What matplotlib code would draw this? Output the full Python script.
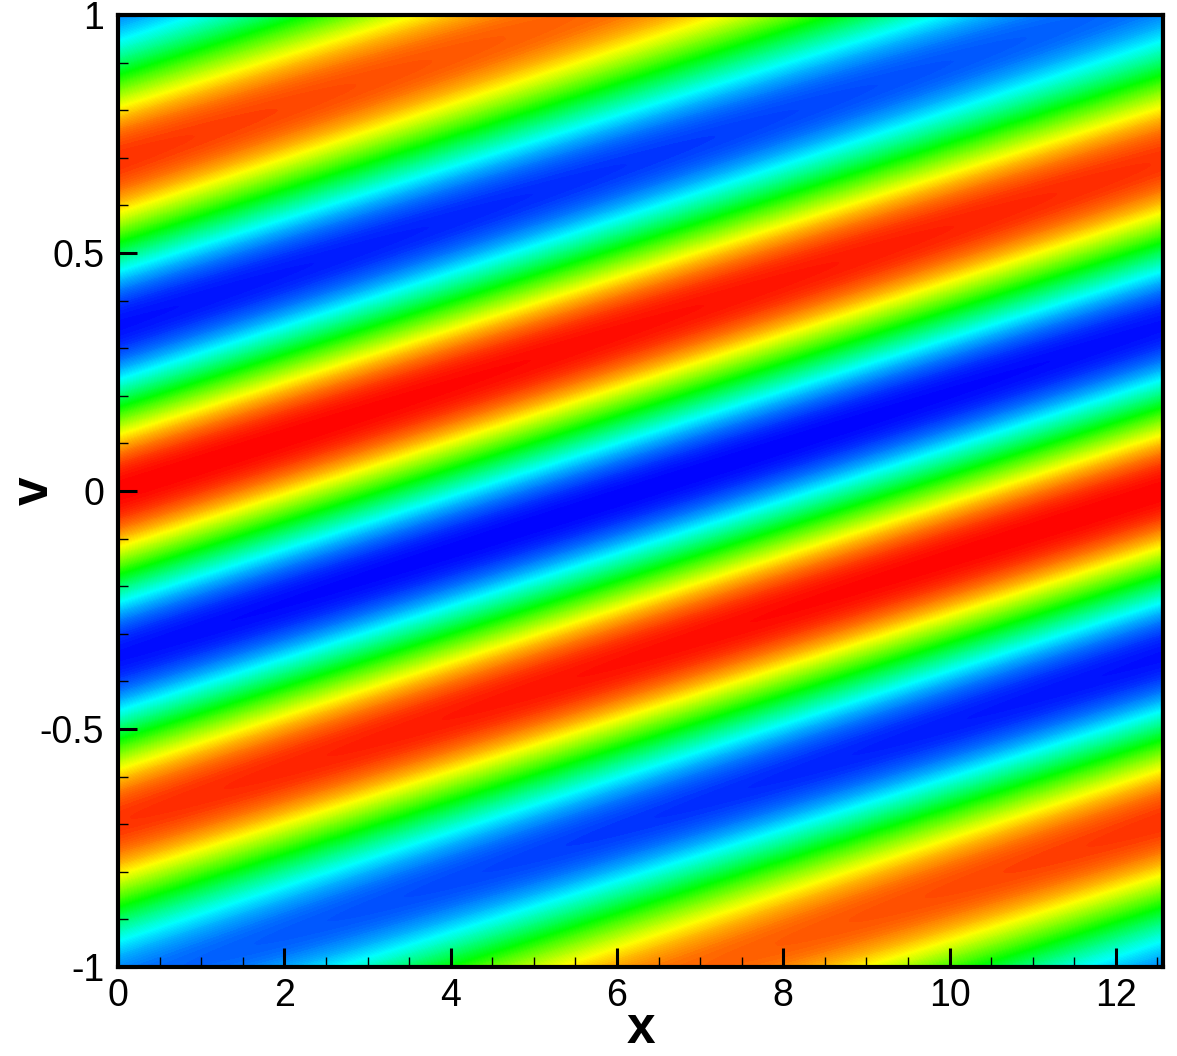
import numpy as np
import matplotlib
matplotlib.use("Agg")
import matplotlib.pyplot as plt
from matplotlib.colors import LinearSegmentedColormap
from matplotlib.ticker import MultipleLocator

plt.rcParams['font.family'] = ['Liberation Sans', 'DejaVu Sans']
plt.rcParams['axes.unicode_minus'] = False

# field parameters: stripes tilt by one v-period over x = 4*pi
k = 0.5          # wavenumber in x
t = 18.0         # phase shift k*v*t -> period in v ~ 0.70
env_w = 4.5      # weak envelope in v (lighter extremes near |v| = 1)
x_min, x_max = 0.0, 4 * np.pi
v_min, v_max = -1.0, 1.0

x = np.linspace(x_min, x_max, 400)
v = np.linspace(v_min, v_max, 400)
X, V = np.meshgrid(x, v)
F = np.exp(-V**2 / env_w) * np.cos(k * X - k * t * V)

# tecplot "small rainbow"
cmap = LinearSegmentedColormap.from_list(
    "small_rainbow", ["#0000ff", "#00ffff", "#00ff00", "#ffff00", "#ff0000"])

fig = plt.figure(figsize=(11.77, 10.56), dpi=100)
ax = fig.add_axes([0.1003, 0.0843, 0.8878, 0.9015])

lim = np.abs(F).max()
ax.contourf(X, V, F, levels=np.linspace(-lim, lim, 121), cmap=cmap)

ax.set_xlim(x_min, x_max)
ax.set_ylim(v_min, v_max)

ax.xaxis.set_major_locator(MultipleLocator(2))
ax.xaxis.set_minor_locator(MultipleLocator(0.5))
ax.yaxis.set_major_locator(MultipleLocator(0.5))
ax.yaxis.set_minor_locator(MultipleLocator(0.1))
ax.set_yticks([-1, -0.5, 0, 0.5, 1])
ax.set_yticklabels(['-1', '-0.5', '0', '0.5', '1'])

ax.tick_params(which='major', direction='in', length=14, width=2.2,
               labelsize=27, pad=8)
ax.tick_params(which='minor', direction='in', length=7, width=1.0)
ax.tick_params(axis='y', which='both', pad=10)

for s in ax.spines.values():
    s.set_linewidth(3)

ax.set_xlabel('x', fontsize=37, fontweight='bold', va='baseline')
ax.set_ylabel('v', fontsize=37, fontweight='bold', va='baseline')
ax.xaxis.set_label_coords(0.5, -0.0798)
ax.yaxis.set_label_coords(-0.067, 0.5)

plt.savefig('out.png', dpi=100)
